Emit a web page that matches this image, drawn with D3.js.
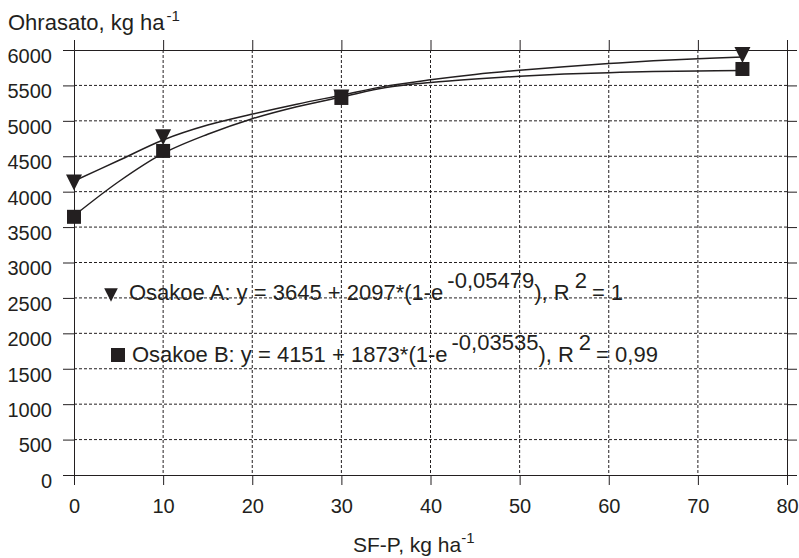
<!DOCTYPE html>
<html>
<head>
<meta charset="utf-8">
<script src="https://cdn.jsdelivr.net/npm/d3@7"></script>
<style>
  body { margin: 0; background: #fff; }
  text { font-family: "Liberation Sans", Arial, sans-serif; fill: #231f20; }
</style>
</head>
<body>
<div id="chart"></div>
<script>
// measured points (SF-P, kg/ha vs yield)
const xPoints = [0, 10, 30, 75];
const triValues = [4130, 4770, 5330, 5930];
const sqValues = [3645, 4575, 5323, 5732];

// fitted curves
const curveX = [0, 5, 10, 15, 20, 25, 30, 35, 40, 45, 50, 55, 60, 65, 70, 75];
const triCurve = [4150, 4440, 4730, 4940, 5095, 5235, 5362, 5490, 5580, 5655, 5715, 5765, 5808, 5848, 5878, 5900];
const sqCurve = [3660, 4140, 4540, 4810, 5030, 5200, 5335, 5470, 5540, 5590, 5630, 5660, 5680, 5695, 5704, 5710];

const xTicks = [0, 10, 20, 30, 40, 50, 60, 70, 80];
const yTicks = [0, 500, 1000, 1500, 2000, 2500, 3000, 3500, 4000, 4500, 5000, 5500, 6000];

const W = 799, H = 558;
const margin = {top: 50, right: 12, bottom: 83, left: 74};
const width = W - margin.left - margin.right,
    height = H - margin.top - margin.bottom;

const svg = d3.select("#chart").append("svg")
    .attr("width", W)
    .attr("height", H);

const g = svg.append("g")
    .attr("transform", "translate(" + margin.left + "," + margin.top + ")");

const x = d3.scaleLinear().domain([0, 80]).range([0, width]);
const y = d3.scaleLinear().domain([0, 6000]).range([height, 0]);

const ink = "#231f20";

// dashed grid
g.append("g").selectAll("line")
    .data(yTicks.filter(d => d > 0 && d < 6000))
    .enter().append("line")
    .attr("x1", 0).attr("x2", width)
    .attr("y1", d => y(d)).attr("y2", d => y(d))
    .attr("stroke", ink).attr("stroke-width", 1)
    .attr("stroke-dasharray", "3,2");

g.append("g").selectAll("line")
    .data(xTicks.filter(d => d > 0 && d < 80))
    .enter().append("line")
    .attr("y1", 0).attr("y2", height)
    .attr("x1", d => x(d)).attr("x2", d => x(d))
    .attr("stroke", ink).attr("stroke-width", 1)
    .attr("stroke-dasharray", "3,2");

// axes (ticks outward on all four sides)
const xAxis = d3.axisBottom(x).tickValues(xTicks).tickSize(10).tickPadding(14)
    .tickFormat(d3.format("d"));
const yAxis = d3.axisLeft(y).tickValues(yTicks).tickSize(11).tickPadding(11)
    .tickFormat(d3.format("d"));

const gx = g.append("g")
    .attr("transform", "translate(0," + height + ")")
    .call(xAxis);
const gy = g.append("g").call(yAxis);

g.append("g").call(d3.axisTop(x).tickValues(xTicks).tickSize(10).tickFormat(""));
g.append("g").attr("transform", "translate(" + width + ",0)")
    .call(d3.axisRight(y).tickValues(yTicks).tickSize(10).tickFormat(""));

g.selectAll(".domain").attr("stroke", ink);
g.selectAll(".tick line").attr("stroke", ink);

gx.selectAll("text").style("font-size", "20px").attr("fill", ink);
gy.selectAll("text").style("font-size", "20px").attr("fill", ink).attr("dy", "0.62em");

// curves
const line = d3.line()
    .x(d => x(d[0]))
    .y(d => y(d[1]))
    .curve(d3.curveCatmullRom);

g.append("path")
    .datum(curveX.map((d, i) => [d, triCurve[i]]))
    .attr("d", line)
    .attr("fill", "none").attr("stroke", ink).attr("stroke-width", 1.5);

g.append("path")
    .datum(curveX.map((d, i) => [d, sqCurve[i]]))
    .attr("d", line)
    .attr("fill", "none").attr("stroke", ink).attr("stroke-width", 1.5);

// markers
const triPath = "M-8,-8L8,-8L0,8Z";

g.selectAll(".tri")
    .data(xPoints.map((d, i) => [d, triValues[i]]))
    .enter().append("path")
    .attr("class", "tri")
    .attr("d", triPath)
    .attr("transform", d => "translate(" + x(d[0]) + "," + y(d[1]) + ")")
    .attr("fill", ink);

g.selectAll(".sq")
    .data(xPoints.map((d, i) => [d, sqValues[i]]))
    .enter().append("rect")
    .attr("class", "sq")
    .attr("x", d => x(d[0]) - 7)
    .attr("y", d => y(d[1]) - 7)
    .attr("width", 14).attr("height", 14)
    .attr("fill", ink);

// legend
function eqText(tx, ty, parts) {
    const t = svg.append("text")
        .attr("x", tx).attr("y", ty)
        .style("font-size", "22px");
    t.append("tspan").text(parts[0]);
    t.append("tspan").attr("dy", -12).attr("dx", 4).text(parts[1]);
    t.append("tspan").attr("dy", 12).text(parts[2]);
    t.append("tspan").attr("dy", -12).attr("dx", 5).text("2");
    t.append("tspan").attr("dy", 12).attr("dx", 5).text(parts[3]);
}

svg.append("path").attr("d", triPath)
    .attr("transform", "translate(111,295) scale(0.85)")
    .attr("fill", ink);
eqText(129, 300, ["Osakoe A: y = 3645 + 2097*(1-e", "-0,05479", "), R", "= 1"]);

svg.append("rect").attr("x", 111).attr("y", 348).attr("width", 14).attr("height", 14)
    .attr("fill", ink);
eqText(132, 362, ["Osakoe B: y = 4151 + 1873*(1-e", "-0,03535", "), R", "= 0,99"]);

// axis titles
const yt = svg.append("text").attr("x", 8).attr("y", 30).style("font-size", "22px");
yt.append("tspan").text("Ohrasato, kg ha");
yt.append("tspan").attr("dy", -9).attr("dx", 2).style("font-size", "15px").text("-1");

const xt = svg.append("text").attr("x", 353).attr("y", 552).style("font-size", "21px");
xt.append("tspan").text("SF-P, kg ha");
xt.append("tspan").attr("dy", -9).style("font-size", "15px").text("-1");
</script>
</body>
</html>
